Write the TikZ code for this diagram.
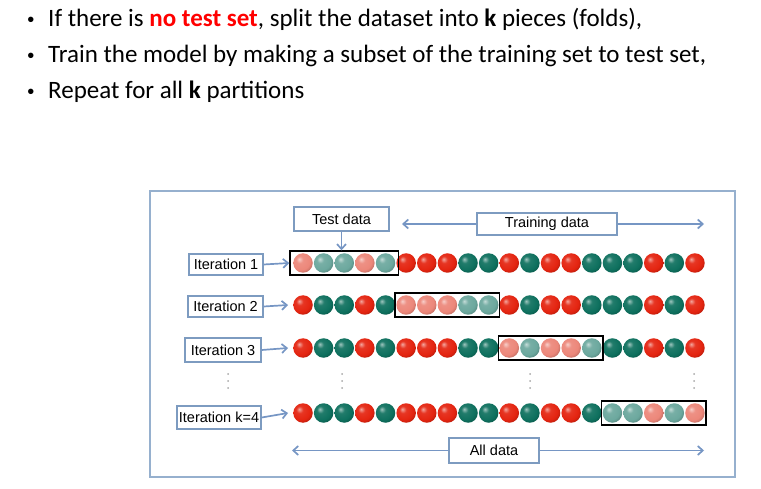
\documentclass[tikz,border=0pt]{standalone}
\usepackage{fontspec}
\setmainfont{Carlito}
\newfontfamily\diagfont{Liberation Sans}
\usetikzlibrary{arrows.meta,fit,shadings}
\definecolor{frameblue}{RGB}{150,176,206}
\definecolor{lblblue}{RGB}{125,155,192}
\definecolor{arrblue}{RGB}{118,150,196}
\definecolor{redball}{RGB}{228,36,16}
\definecolor{greenball}{RGB}{14,112,94}
\definecolor{redfade}{RGB}{236,135,122}
\definecolor{greenfade}{RGB}{108,168,158}
\definecolor{txtred}{RGB}{255,0,0}
\colorlet{bcol}{redball}
\pgfdeclareradialshading[bcol]{myball}{\pgfqpoint{-10bp}{10bp}}{%
  color(0bp)=(bcol!40!white);
  color(9bp)=(bcol!92!white);
  color(24bp)=(bcol);
  color(36bp)=(bcol!70!black);
  color(60bp)=(bcol!45!black)}
\begin{document}
\begin{tikzpicture}[x=1pt,y=-1pt,
  bul/.style={anchor=base west,inner sep=0,font=\fontsize{25}{30}\selectfont},
  dotb/.style={anchor=base,inner sep=0,font=\diagfont\fontsize{20}{24}\selectfont},
  lbl/.style={draw=lblblue,line width=1.4pt,fill=white,inner sep=0,font=\diagfont\fontsize{14.5}{16}\selectfont},
  arr/.style={draw=arrblue,line width=1.7pt,-{Straight Barb[length=5pt,width=9pt]}},
  ballnode/.style={circle,inner sep=0,minimum size=19.5pt,shading=myball},
  testbox/.style={draw=black,line width=1.5pt,inner xsep=1pt,inner ysep=2pt},
  dotstyle/.style={fill=gray!70}]
\useasboundingbox (0,0) rectangle (761,489);
% bullet text
\node[dotb] (d1) at (31,27) {•};
\node[dotb] (d2) at (31,63) {•};
\node[dotb] (d3) at (31,99) {•};
\node[bul] (t1) at (48,27) {If there is \textcolor{txtred}{\textbf{no test set}}, split the dataset into \textbf{k} pieces (folds),};
\node[bul] (t2) at (48,63) {Train the model by making a subset of the training set to test set,};
\node[bul] (t3) at (48,99) {Repeat for all \textbf{k} partitions};
% frame
\draw[frameblue,line width=2.4pt] (150,191) rectangle (735,477);
% balls
\foreach \r/\yy/\s in {1/263/1,2/305/6,3/348/11,4/413/16}{
  \foreach \i in {1,...,20}{
    \pgfmathtruncatemacro{\cc}{{1,0,0,1,0,1,1,1,0,0,1,0,1,1,0,0,0,1,0,1}[\i-1]}
    \pgfmathtruncatemacro{\inside}{(\i>=\s)&&(\i<=\s+4)}
    \ifnum\inside=1
      \ifnum\cc=1 \colorlet{bcol}{redfade}\else\colorlet{bcol}{greenfade}\fi
    \else
      \ifnum\cc=1 \colorlet{bcol}{redball}\else\colorlet{bcol}{greenball}\fi
    \fi
    \node[ballnode] (b\r-\i) at ({303+(\i-1)*20.63},\yy) {};
  }
}
\node[testbox,fit=(b1-1)(b1-5),inner xsep=3pt] (tb1) {};
\node[testbox,fit=(b2-6)(b2-10)] (tb2) {};
\node[testbox,fit=(b3-11)(b3-15)] (tb3) {};
\node[testbox,fit=(b4-16)(b4-20)] (tb4) {};
% iteration labels
\node[lbl,minimum width=74pt,minimum height=21pt] (L1) at (226,264.5) {Iteration 1};
\node[lbl,minimum width=75pt,minimum height=21pt] (L2) at (225.5,306.5) {Iteration 2};
\node[lbl,minimum width=76pt,minimum height=24pt] (L3) at (223,350) {Iteration 3};
\node[lbl,minimum width=84pt,minimum height=23pt] (L4) at (219,417.5) {Iteration k=4};
\draw[arr] (L1.east) -- (tb1.west);
\draw[arr] (L2.east) -- ([xshift=-5pt]b2-1.west);
\draw[arr] (L3.east) -- ([xshift=-5pt]b3-1.west);
\draw[arr] (L4.east) -- ([xshift=-5pt]b4-1.west);
% top labels
\node[lbl,minimum width=95pt,minimum height=24pt] (test) at (341.5,219) {Test data};
\draw[arr] (test.south) -- (test.south |- tb1.north);
\node[lbl,minimum width=140pt,minimum height=22pt] (train) at (547,224) {Training data};
\coordinate (trL) at (402,224);
\coordinate (trR) at (704,224);
\draw[arr] (train.west) -- (trL);
\draw[arr] (train.east) -- (trR);
\node[lbl,minimum width=90pt,minimum height=25pt] (all) at (494,450.5) {All data};
\coordinate (alL) at (292,450.5);
\coordinate (alR) at (704,450.5);
\draw[arr] (all.west) -- (alL);
\draw[arr] (all.east) -- (alR);
% vertical dots
\foreach \xx in {228,342,530,694}{
  \foreach \yy in {374,381,388}{
    \fill[dotstyle] (\xx,\yy) circle (1pt);
  }
}
\end{tikzpicture}
\end{document}
